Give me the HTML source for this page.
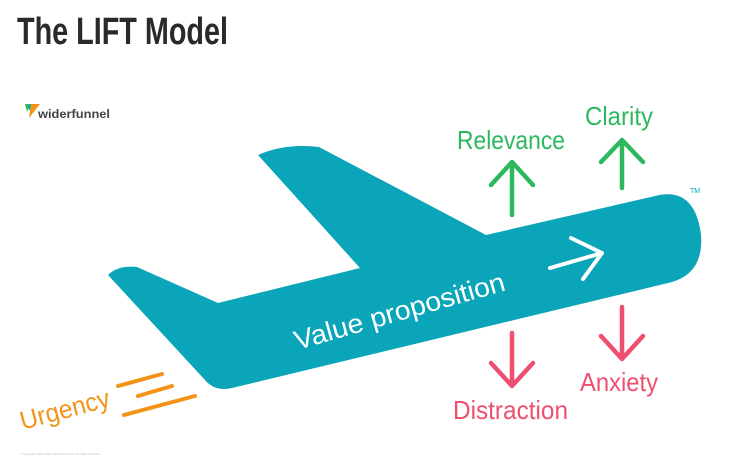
<!DOCTYPE html>
<html><head><meta charset="utf-8"><style>
html,body{margin:0;padding:0;background:#fff;width:734px;height:470px;overflow:hidden}
</style></head><body>
<svg width="734" height="470" viewBox="0 0 734 470" xmlns="http://www.w3.org/2000/svg">
<text x="17" y="44" font-family="Liberation Sans, sans-serif" font-weight="bold" font-size="38" fill="#2a2a2a" textLength="211" lengthAdjust="spacingAndGlyphs">The LIFT Model</text>
<!-- logo -->
<polygon points="25,104 37,104 31,112" fill="#0aa5b9"/>
<polygon points="31,104 40,104 29,118" fill="#f39419"/>
<polygon points="25,104 30,104 27,112" fill="#2db85f"/>
<text x="38" y="118" font-family="Liberation Sans, sans-serif" font-weight="bold" font-size="12" fill="#444" textLength="72" lengthAdjust="spacingAndGlyphs">widerfunnel</text>
<!-- plane -->
<path d="M108,275 Q118,265 137,267 L218,303 L360,268 L258,155 Q285,143 319,147 L486,235 L655,196 Q695,186 701,235 Q704,275 668,283 L232,388 Q215,392 205,380 Z" fill="#0aa5b9"/>
<text x="690" y="193" font-family="Liberation Sans, sans-serif" font-size="7" fill="#0aa5b9">TM</text>
<text transform="translate(402,320) rotate(-16)" text-anchor="middle" font-family="Liberation Sans, sans-serif" font-size="27" fill="#fff" textLength="218" lengthAdjust="spacingAndGlyphs">Value proposition</text>
<g stroke="#fff" stroke-width="4" fill="none" stroke-linecap="round" stroke-linejoin="round">
<path d="M550,268 L602,253 M571,238 L602,253 L583,279"/>
</g>
<!-- green arrows -->
<g stroke="#2db85f" stroke-width="4.5" fill="none" stroke-linecap="round" stroke-linejoin="round">
<path d="M512,215 L512,162 M491,185 L512,162 L533,185"/>
<path d="M622,188 L622,140 M601,162 L622,140 L643,162"/>
</g>
<g stroke="#ef4f6f" stroke-width="4.5" fill="none" stroke-linecap="round" stroke-linejoin="round">
<path d="M512,333 L512,386 M491,363 L512,386 L533,363"/>
<path d="M622,307 L622,359 M601,336 L622,359 L643,336"/>
</g>
<g font-family="Liberation Sans, sans-serif" font-size="26" lengthAdjust="spacingAndGlyphs">
<text x="457" y="149" fill="#2db85f" textLength="108" lengthAdjust="spacingAndGlyphs">Relevance</text>
<text x="585" y="125" fill="#2db85f" textLength="68" lengthAdjust="spacingAndGlyphs">Clarity</text>
<text x="453" y="419" fill="#ef4f6f" textLength="115" lengthAdjust="spacingAndGlyphs">Distraction</text>
<text x="580" y="391" fill="#ef4f6f" textLength="78" lengthAdjust="spacingAndGlyphs">Anxiety</text>
<text transform="translate(67,418) rotate(-15)" text-anchor="middle" fill="#f39419" textLength="92" lengthAdjust="spacingAndGlyphs">Urgency</text>
</g>
<g stroke="#f39419" stroke-width="4" stroke-linecap="round">
<line x1="118" y1="386" x2="162" y2="374"/>
<line x1="138" y1="396" x2="172" y2="386"/>
<line x1="124" y1="415" x2="195" y2="396"/>
</g>
<text x="20" y="455" font-family="Liberation Sans, sans-serif" font-size="3" fill="#bbb">© Copyright 2007-2016 WiderFunnel Inc. All rights reserved.</text>
</svg>
</body></html>
